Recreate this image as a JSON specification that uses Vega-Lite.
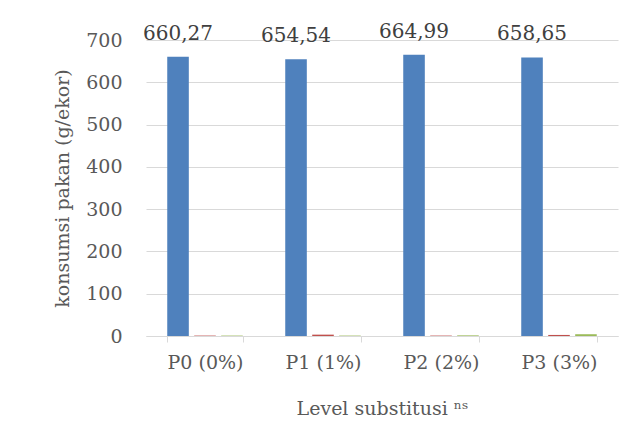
{
  "$schema": "https://vega.github.io/schema/vega-lite/v6.json",
  "width": 472,
  "height": 296,
  "autosize": {"type": "none"},
  "padding": {"left": 146, "top": 40, "right": 15, "bottom": 107},
  "background": "white",
  "data": {
    "values": [
      {"level": "P0 (0%)", "seri": "seri1", "nilai": 660.27},
      {"level": "P0 (0%)", "seri": "seri2", "nilai": 1.0},
      {"level": "P0 (0%)", "seri": "seri3", "nilai": 1.0},
      {"level": "P1 (1%)", "seri": "seri1", "nilai": 654.54},
      {"level": "P1 (1%)", "seri": "seri2", "nilai": 3.2},
      {"level": "P1 (1%)", "seri": "seri3", "nilai": 1.0},
      {"level": "P2 (2%)", "seri": "seri1", "nilai": 664.99},
      {"level": "P2 (2%)", "seri": "seri2", "nilai": 1.0},
      {"level": "P2 (2%)", "seri": "seri3", "nilai": 1.5},
      {"level": "P3 (3%)", "seri": "seri1", "nilai": 658.65},
      {"level": "P3 (3%)", "seri": "seri2", "nilai": 2.5},
      {"level": "P3 (3%)", "seri": "seri3", "nilai": 4.2}
    ]
  },
  "config": {
    "view": {"stroke": null},
    "font": "DejaVu Serif",
    "locale": {"number": {"decimal": ",", "thousands": ".", "grouping": [3], "currency": ["", ""]}}
  },
  "encoding": {
    "x": {
      "field": "level", "type": "nominal", "sort": null,
      "scale": {"paddingInner": 0.36, "paddingOuter": 0.18},
      "axis": {
        "title": "Level substitusi ⁿˢ", "labelAngle": 0, "grid": false,
        "domainColor": "#D9D9D9", "tickColor": "#D9D9D9", "tickBand": "extent", "tickSize": 6,
        "labelFontSize": 19, "labelColor": "#595959", "labelPadding": 11,
        "titleFontSize": 19, "titleFontWeight": "normal", "titleColor": "#595959", "titlePadding": 27
      }
    },
    "xOffset": {"field": "seri", "type": "nominal", "sort": null, "scale": {"domain": ["seri1", "seri2", "seri3"], "paddingInner": 0.2}},
    "y": {
      "field": "nilai", "type": "quantitative",
      "scale": {"domain": [0, 700], "nice": false},
      "axis": {
        "title": "konsumsi pakan (g/ekor)", "values": [0, 100, 200, 300, 400, 500, 600, 700], "format": "d",
        "domain": false, "ticks": false, "gridColor": "#D9D9D9",
        "labelFontSize": 19, "labelColor": "#595959", "labelPadding": 24,
        "titleFontSize": 19, "titleFontWeight": "normal", "titleColor": "#595959", "titlePadding": 13
      }
    }
  },
  "layer": [
    {
      "mark": {"type": "bar"},
      "encoding": {
        "color": {"field": "seri", "type": "nominal", "scale": {"domain": ["seri1", "seri2", "seri3"], "range": ["#4F81BD", "#C0504D", "#9BBB59"]}, "legend": null}
      }
    },
    {
      "transform": [{"filter": "datum.seri == 'seri1'"}],
      "mark": {"type": "text", "baseline": "alphabetic", "dy": -17, "fontSize": 20, "color": "#404040"},
      "encoding": {
        "text": {"field": "nilai", "type": "quantitative", "format": ".2f"}
      }
    }
  ]
}
